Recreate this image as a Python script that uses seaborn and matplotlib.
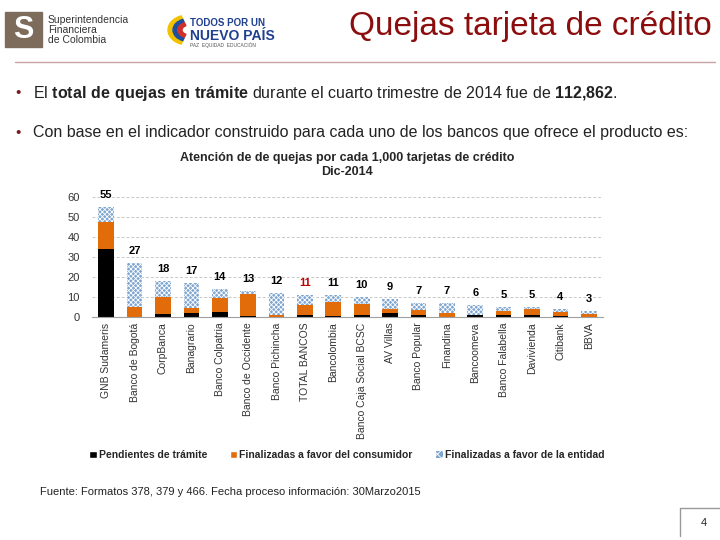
import numpy as np
import pandas as pd
import seaborn as sns
import matplotlib.pyplot as plt
from matplotlib.patches import Patch, Rectangle, Wedge
from matplotlib.lines import Line2D

# --- datos ---
bancos = ["GNB Sudameris", "Banco de Bogotá", "CorpBanca", "Banagrario", "Banco Colpatria",
          "Banco de Occidente", "Banco Pichincha", "TOTAL BANCOS", "Bancolombia",
          "Banco Caja Social BCSC", "AV Villas", "Banco Popular", "Finandina", "Bancoomeva",
          "Banco Falabella", "Davivienda", "Citibank", "BBVA"]
pendientes = [34, 0, 1.3, 2, 2.3, 0.3, 0, 1, 0.4, 1, 2, 1, 0, 1, 1, 1, 0.3, 0]
consumidor = [13.5, 5, 8.7, 2.7, 7.2, 11, 1.2, 5, 7.3, 5.3, 2.2, 2.7, 2, 0.2, 2, 2.8, 2.4, 1.7]
entidad = [7.5, 22, 8, 12.3, 4.5, 1.7, 10.8, 5, 3.3, 3.7, 4.8, 3.3, 5, 4.8, 2, 1.2, 1.3, 1.3]

df = pd.DataFrame({"banco": bancos, "pend": pendientes, "cons": consumidor, "ent": entidad})
df["pc"] = df["pend"] + df["cons"]
df["total"] = df["pc"] + df["ent"]

sns.set_style("white")
plt.rcParams["font.family"] = ["Liberation Sans", "DejaVu Sans"]
plt.rcParams["mathtext.fontset"] = "custom"
plt.rcParams["mathtext.rm"] = "Liberation Sans"
plt.rcParams["mathtext.bf"] = "Liberation Sans:bold"
plt.rcParams["hatch.linewidth"] = 0.6

W, H = 720, 540
fig = plt.figure(figsize=(7.2, 5.4), dpi=100)

def fx(x):
    return x / W

def fy(y):
    return 1 - y / H

# encabezado
fig.patches.append(Rectangle((fx(5), fy(47)), fx(37), 35 / H, transform=fig.transFigure,
                             color="#7d6b5c", zorder=1))
fig.text(fx(23), fy(30), "S", color="white", fontsize=22, fontweight="bold",
         ha="center", va="center")
fig.text(fx(48), fy(30), "Superintendencia\nFinanciera\nde Colombia", fontsize=7.5,
         color="#333333", va="center", linespacing=1.05)
for r, c in [(20, "#f2c200"), (15, "#1f4e9c"), (10, "#d0302a")]:
    fig.patches.append(Wedge((fx(188), fy(30)), r / W, 110, 250, width=4 / W,
                             transform=fig.transFigure, color=c))
fig.text(fx(190), fy(23), "TODOS POR UN", fontsize=7, fontweight="bold", color="#1f3f8f",
         va="center")
fig.text(fx(190), fy(36), "NUEVO PAÍS", fontsize=10, fontweight="bold", color="#1f3f8f",
         va="center")
fig.text(fx(190), fy(45), "PAZ  EQUIDAD  EDUCACIÓN", fontsize=3.5, color="#555555",
         va="center")
fig.text(fx(712), fy(27), "Quejas tarjeta de crédito", fontsize=24, color="#8b0d0d",
         ha="right", va="center")
fig.lines.append(Line2D([fx(15), fx(715)], [fy(62), fy(62)], transform=fig.transFigure,
                        color="#c9a3a3", lw=1))

# viñetas
fig.text(fx(15), fy(93), "•", fontsize=11, color="#7a1c1c", va="center")
fig.text(fx(33), fy(93),
         r"El $\bf{total\ de\ quejas\ en\ trámite}$ durante el cuarto trimestre de 2014 fue de $\bf{112{,}862}$.",
         fontsize=11.5, color="#222222", va="center")
fig.text(fx(15), fy(133), "•", fontsize=11, color="#7a1c1c", va="center")
fig.text(fx(33), fy(133),
         "Con base en el indicador construido para cada uno de los bancos que ofrece el producto es:",
         fontsize=11.5, color="#222222", va="center")

# grafico
ax = fig.add_axes([fx(92), fy(317), fx(603) - fx(92), (317 - 196.7) / H])
sns.barplot(data=df, x="banco", y="total", color="#7fa6d0", hatch="xxxxxxx", edgecolor="white",
            linewidth=0, width=0.55, saturation=1, ax=ax)
sns.barplot(data=df, x="banco", y="pc", color="#e36c0a", width=0.55, saturation=1,
            linewidth=0, ax=ax)
sns.barplot(data=df, x="banco", y="pend", color="black", width=0.55, saturation=1,
            linewidth=0, ax=ax)

for i, t in enumerate(df["total"]):
    col = "#c00000" if df["banco"][i] == "TOTAL BANCOS" else "black"
    ax.annotate(f"{t:.0f}", (i, t), xytext=(0, 5), textcoords="offset points",
                ha="center", va="bottom", fontsize=8, fontweight="bold", color=col)

ax.set_ylim(0, 60)
ax.set_xlim(-0.5, len(bancos) - 0.5)
ax.set_yticks(range(0, 61, 10))
ax.set_xlabel("")
ax.set_ylabel("")
ax.yaxis.grid(True, linestyle=(0, (3, 2)), color="#c8c8c8", lw=0.7)
ax.set_axisbelow(True)
for s in ["top", "right", "left"]:
    ax.spines[s].set_visible(False)
ax.spines["bottom"].set_color("#a0a0a0")
ax.tick_params(axis="y", length=0, labelsize=8, labelcolor="#333333", pad=9)
ax.tick_params(axis="x", length=0, labelsize=7.5, labelcolor="#333333", rotation=90, pad=4)
ax.set_xticks(np.arange(-0.5, len(bancos), 1), minor=True)
ax.tick_params(axis="x", which="minor", length=3, color="#a0a0a0")

fig.text(fx(347), fy(158), "Atención de de quejas por cada 1,000 tarjetas de crédito",
         fontsize=9, fontweight="bold", ha="center", va="center")
fig.text(fx(347), fy(172), "Dic-2014", fontsize=9, fontweight="bold", ha="center", va="center")

handles = [Patch(facecolor="black"),
           Patch(facecolor="#e36c0a"),
           Patch(facecolor="#7fa6d0", hatch="xxxx", edgecolor="white", linewidth=0)]
labels = ["Pendientes de trámite", "Finalizadas a favor del consumidor",
          "Finalizadas a favor de la entidad"]
leg = fig.legend(handles, labels, loc="center", bbox_to_anchor=(fx(347), fy(455)), ncol=3,
                 frameon=False, handlelength=0.7, handleheight=0.7, handletextpad=0.2,
                 columnspacing=2.2, prop={"size": 7.5, "weight": "bold"})

fig.text(fx(40), fy(492),
         "Fuente: Formatos 378, 379 y 466. Fecha proceso información: 30Marzo2015",
         fontsize=8, color="#222222", va="center")

# numero de pagina
fig.lines.append(Line2D([fx(680), fx(680), fx(720)], [fy(536), fy(508), fy(508)],
                        transform=fig.transFigure, color="#999999", lw=1))
fig.text(fx(704), fy(523), "4", fontsize=8, ha="center", va="center")

fig.savefig("out.png", dpi=100)
